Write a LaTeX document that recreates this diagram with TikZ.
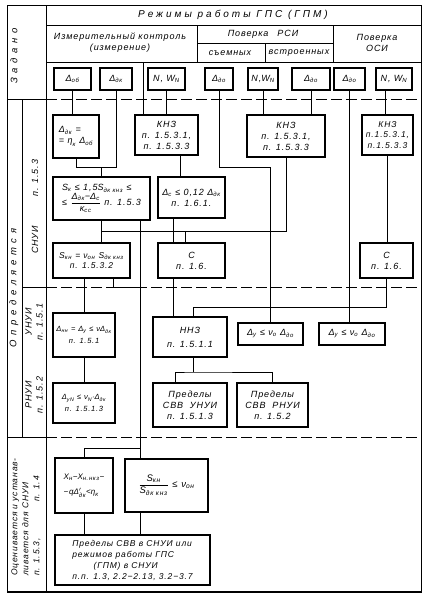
\documentclass[tikz,border=0pt]{standalone}
\usepackage{amsmath}
\usepackage{fontspec}
\setmainfont{Liberation Sans}[LetterSpace=10]
\newfontfamily\widefont{Liberation Sans}[LetterSpace=30]
\newfontfamily\vwidefont{Liberation Sans}[LetterSpace=50]
\newcommand{\ix}[2]{\ensuremath{\text{#1}_{\text{#2}}}}
\newcommand{\fr}[2]{\ensuremath{\dfrac{\text{#1}}{\text{#2}}}}
\usepackage{tikz}

\begin{document}
\begin{tikzpicture}[x=1pt,y=-1pt,
    bx/.style={draw,line width=1.3pt,anchor=north west,inner sep=1pt,outer sep=0pt,align=center,font=\fontsize{9}{11}\selectfont\itshape},
    sm/.style={font=\fontsize{7.5}{9.5}\selectfont\itshape},
    md/.style={font=\fontsize{8.5}{10.5}\selectfont\itshape},
    lbl/.style={font=\fontsize{9}{11}\selectfont\itshape},
    wlbl/.style={font=\fontsize{10}{12}\selectfont\widefont\itshape},
    vwlbl/.style={font=\fontsize{9.5}{11}\selectfont\vwidefont\itshape},
    ln/.style={line width=0.9pt},
    fr/.style={line width=1pt},
    dsh/.style={line width=1pt,dash pattern=on 11pt off 4pt}]
\useasboundingbox (0,0) rectangle (430,600);

\draw[fr] (7,5) rectangle (421,592);
\draw[line width=2pt] (7,592) -- (421,592);
\draw[fr] (46,5) -- (46,592);
\draw[fr] (46,25) -- (421,25);
\draw[fr] (197,25) -- (197,62) (333,25) -- (333,62) (197,43) -- (333,43) (265,43) -- (265,62);
\draw[fr] (46,62) -- (421,62);
\draw[fr] (7,99) -- (46,99) (22,99) -- (22,437) (22,287) -- (46,287) (7,437) -- (46,437);
\draw[dsh] (46,99) -- (421,99) (46,287) -- (421,287) (46,437) -- (421,437);

\node[vwlbl,rotate=90] (zad) at (14,56) {Задано};
\node[wlbl] (rezh) at (233,15) {Режимы работы ГПС (ГПМ)};
\node[lbl,align=center] (izm) at (120,43) {Измерительный контроль\\(измерение)};
\node[lbl] (prsi) at (263,34) {Поверка\quad РСИ};
\node[lbl] (sem) at (230,53) {съемных};
\node[lbl] (vstr) at (299,53) {встроенных};
\node[lbl,align=center] (posi) at (377,43) {Поверка\\ОСИ};

\node[vwlbl,rotate=90] (opr) at (14,288) {Определяется};
\node[lbl,rotate=90] (p153) at (35,178) {п. 1.5.3};
\node[lbl,rotate=90] (snui) at (35,240) {СНУИ};
\node[lbl,rotate=90,align=center] (unui) at (34,322) {УНУИ\\п. 1.5.1};
\node[lbl,rotate=90,align=center] (rnui) at (34,395) {РНУИ\\п. 1.5.2};
\node[lbl,rotate=90,align=left,font=\fontsize{8.5}{11}\selectfont\itshape] (ots) at (26,517) {Оценивается и устанав-\\ливается для СНУИ\\п. 1.5.3, \hspace{3.5em} п. 1.4};

\node[bx,minimum width=37,minimum height=22] (dob) at (54,68) {\ix{Δ}{об}};
\node[bx,minimum width=32,minimum height=22] (ddk) at (100,68) {\ix{Δ}{дк}};
\node[bx,minimum width=37,minimum height=22] (nw1) at (148,68) {N, \ix{W}{N}};
\node[bx,minimum width=28,minimum height=22] (do1) at (205,68) {\ix{Δ}{до}};
\node[bx,minimum width=30,minimum height=22] (nw2) at (248,68) {N,\ix{W}{N}};
\node[bx,minimum width=38,minimum height=22] (do2) at (292,68) {\ix{Δ}{до}};
\node[bx,minimum width=31,minimum height=22] (do3) at (334,68) {\ix{Δ}{до}};
\node[bx,minimum width=36,minimum height=22] (nw3) at (376,68) {N, \ix{W}{N}};

\node[bx,align=left,minimum width=46,minimum height=43] (dkeq) at (53,115) {\ix{Δ}{дк} =\\= \ix{η}{к} \ix{Δ}{об}};
\node[bx,minimum width=63,minimum height=40] (knz1) at (135,115) {КНЗ\\п. 1.5.3.1,\\п. 1.5.3.3};
\node[bx,minimum width=78,minimum height=42] (knz2) at (247,115) {КНЗ\\п. 1.5.3.1,\\п. 1.5.3.3};
\node[bx,md,minimum width=51,minimum height=40] (knz3) at (362,115) {КНЗ\\п.1.5.3.1,\\п.1.5.3.3};
\node[bx,align=left,minimum width=97,minimum height=43] (sk) at (53,177) {\ix{S}{к} ≤ 1,5\ix{S}{дк кнз} ≤\\≤ \fr{\ix{Δ}{дк}−\ix{Δ}{с}}{\ix{κ}{сс}} п. 1.5.3};
\node[bx,align=left,minimum width=67,minimum height=41] (dc) at (158,177) {\ix{Δ}{с} ≤ 0,12 \ix{Δ}{дк}\\\quad п. 1.6.1.};
\node[bx,md,minimum width=77,minimum height=35] (skn) at (53,243) {\ix{S}{кн} = \ix{ν}{он} \ix{S}{дк кнз}\\п. 1.5.3.2};
\node[bx,minimum width=67,minimum height=35] (c1) at (158,243) {С\\п. 1.6.};
\node[bx,minimum width=53,minimum height=35] (c2) at (360,243) {С\\п. 1.6.};

\node[bx,sm,minimum width=62,minimum height=44] (dnn) at (53,313) {\ix{Δ}{нн} = \ix{Δ}{у} ≤ ν\ix{Δ}{дк}\\[2pt]п. 1.5.1};
\node[bx,minimum width=74,minimum height=40] (nnz) at (153,317) {ННЗ\\[3pt]п. 1.5.1.1};
\node[bx,minimum width=65,minimum height=22] (dy1) at (238,323) {\ix{Δ}{у} ≤ \ix{ν}{о} \ix{Δ}{до}};
\node[bx,minimum width=66,minimum height=22] (dy2) at (319,323) {\ix{Δ}{у} ≤ \ix{ν}{о} \ix{Δ}{до}};
\node[bx,sm,minimum width=62,minimum height=40] (dyn) at (53,383) {\ix{Δ}{уN} ≤ \ix{ν}{N}·\ix{Δ}{дк}\\[2pt]п. 1.5.1.3};
\node[bx,minimum width=74,minimum height=44] (lim1) at (153,383) {Пределы\\СВВ \ УНУИ\\п. 1.5.1.3};
\node[bx,minimum width=71,minimum height=44] (lim2) at (237,383) {Пределы\\СВВ \ РНУИ\\п. 1.5.2};

\node[bx,font=\fontsize{8}{10}\selectfont\itshape,align=left,minimum width=58,minimum height=55] (xh) at (55,458) {\ix{X}{н}−\ix{X}{н.нкз}−\\[5pt]−q\ensuremath{\text{Δ}^{\prime}_{\text{дк}}}<\ix{η}{к}};
\node[bx,font=\fontsize{9.5}{11}\selectfont\itshape,minimum width=83,minimum height=53] (ratio) at (125,459) {\fr{\ix{S}{кн}}{\ix{S}{дк кнз}} ≤ \ix{ν}{он}};
\node[bx,align=left,font=\fontsize{8.5}{11}\selectfont\itshape,minimum width=155,minimum height=50] (final) at (55,535) {Пределы СВВ в СНУИ или\\режимов работы ГПС\\\hspace{2.5em}(ГПМ) в СНУИ\\п.п. 1.3, 2.2−2.13, 3.2−3.7};

\coordinate (hdr) at (143,62);
\coordinate (br) at (140,448);
\coordinate (t1) at (140,287);

\draw[ln] (dob.south) -- (dob.south |- dkeq.north);
\draw[ln] (dkeq.south) -- ++(0,9) -| (ddk.south);
\draw[ln] (sk.north) -- ++(0,-10);
\draw[ln] (hdr) -- (hdr |- knz1.north);
\draw[ln] (nw1.south) -- (nw1.south |- knz1.north);
\draw[ln] ([xshift=14]knz1.south) -- ([xshift=14]knz1.south |- dc.north);
\draw[ln] (do1.south) -- ++(0,77) -| (dy1.north);
\draw[ln] (nw2.south) -- (nw2.south |- knz2.north);
\draw[ln] (do2.south) -- (do2.south |- knz2.north);
\draw[ln] (knz2.south) -- ++(0,74) -| (sk.south);
\draw[ln] (sk.south) -- (sk.south |- skn.north);
\draw[ln] ([xshift=-6.5]c1.north) -- ++(0,-12);
\draw[ln] ([xshift=-18]dc.south) -- ([xshift=-18]c1.north);
\draw[ln] (sk.south -| br) -- (br |- ratio.north);
\draw[ln] (xh.north) |- (br);
\draw[ln] (ratio.south -| br) -- (br |- final.north);
\draw[ln] (xh.south) -- (xh.south |- final.north);
\draw[ln] (dnn.north) -- (dnn.north |- skn.south);
\draw[ln] ([xshift=21.5]skn.south) |- (t1);
\draw[ln] (dnn.south) -- (dnn.south |- dyn.north);
\draw[ln] (do3.south) -- (do3.south |- dy2.north);
\draw[ln] ([xshift=-9]nw3.south) -- ([xshift=-9]nw3.south |- knz3.north);
\draw[ln] (knz3.south) -- (knz3.south |- c2.north);
\draw[ln] ([xshift=-18]c1.south) -- ([xshift=-18]c1.south |- nnz.north);
\draw[ln] (c2.south) -- ++(0,29) -| ([xshift=3]nnz.north);
\draw[ln] ([xshift=3]nnz.south) -- ++(0,15) coordinate (j2);
\draw[ln] ([xshift=-15]lim1.north) |- (j2) -| (lim2.north);
\end{tikzpicture}
\end{document}
